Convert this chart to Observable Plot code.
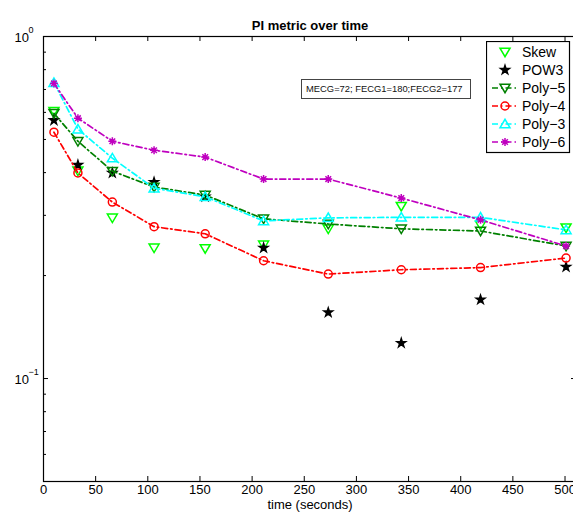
<!DOCTYPE html>
<html><head><meta charset="utf-8">
<script src="https://cdn.jsdelivr.net/npm/d3@7"></script>
<script src="https://cdn.jsdelivr.net/npm/@observablehq/plot@0.6"></script>
<style>
html,body{margin:0;padding:0;overflow:hidden;background:#fff;}
#wrap{position:relative;width:573px;height:516px;overflow:hidden;font-family:"Liberation Sans",Arial,sans-serif;}
#wrap > svg.chart{position:absolute;left:0;top:0;max-width:none !important;width:580px !important;height:516px !important;}
#note{position:absolute;left:301px;top:79px;width:170px;height:20px;box-sizing:border-box;border:1.5px solid #444;font-size:9.4px;line-height:17px;padding-left:4px;background:#fff;color:#111;white-space:nowrap;}
#wrap > svg#legend{position:absolute;left:486px;top:41px;max-width:none !important;}
</style></head><body><div id="wrap"></div>
<script>
// ---- data ----
const times = [10, 33, 66, 106, 155, 211, 273, 343, 419, 501];
const skew  = [0.605, 0.405, 0.295, 0.241, 0.240, 0.246, 0.274, 0.319, 0.281, 0.276];
const pow3  = [0.569, 0.421, 0.399, 0.375, 0.340, 0.241, 0.156, 0.127, 0.170, 0.212];
const poly5 = [0.596, 0.494, 0.404, 0.363, 0.344, 0.293, 0.283, 0.274, 0.270, 0.244];
const poly4 = [0.525, 0.399, 0.328, 0.278, 0.265, 0.221, 0.202, 0.208, 0.211, 0.225];
const poly3 = [0.733, 0.536, 0.441, 0.360, 0.340, 0.289, 0.295, 0.296, 0.296, 0.272];
const poly6 = [0.729, 0.577, 0.494, 0.465, 0.444, 0.383, 0.383, 0.337, 0.291, 0.244];
const seriesNames = ["Skew", "POW3", "Poly\u22125", "Poly\u22124", "Poly\u22123", "Poly\u22126"];
const xTicks = [0, 50, 100, 150, 200, 250, 300, 350, 400, 450, 500];
const yMajor = [1, 0.1];
const yMajorExp = ["0", "\u22121"];
const yMinor = [0.06, 0.07, 0.08, 0.09, 0.2, 0.3, 0.4, 0.5, 0.6, 0.7, 0.8, 0.9];
const titleText = "PI metric over time";
const xLabelText = "time (seconds)";
const noteText = "MECG=72; FECG1=180;FECG2=177";

// ---- symbols ----
const downTri = {draw(c, size){ const r = Math.sqrt(size/Math.PI); c.moveTo(-r, -r*0.75); c.lineTo(r, -r*0.75); c.lineTo(0, r*0.95); c.closePath(); }};
const upTri = {draw(c, size){ const r = Math.sqrt(size/Math.PI); c.moveTo(-r, r*0.75); c.lineTo(r, r*0.75); c.lineTo(0, -r*0.95); c.closePath(); }};
const aster = {draw(c, size){ const r = Math.sqrt(size/Math.PI); for (let k=0;k<4;k++){ const a = k*Math.PI/4; c.moveTo(r*Math.cos(a), r*Math.sin(a)); c.lineTo(-r*Math.cos(a), -r*Math.sin(a)); } }};

const series = [
  {name: seriesNames[0], vals: skew,  color: "#00ff00", symbol: downTri, r: 5, fill: "none", line: false},
  {name: seriesNames[1], vals: pow3,  color: "#000000", symbol: d3.symbolStar, r: 2.7, fill: "#000000", line: false},
  {name: seriesNames[2], vals: poly5, color: "#008000", symbol: downTri, r: 5, fill: "none", line: true},
  {name: seriesNames[3], vals: poly4, color: "#ff0000", symbol: "circle", r: 4, fill: "none", line: true},
  {name: seriesNames[4], vals: poly3, color: "#00ffff", symbol: upTri, r: 5, fill: "none", line: true},
  {name: seriesNames[5], vals: poly6, color: "#bf00bf", symbol: aster, r: 4, fill: "none", line: true}
];
const dash = "6,3,1.5,3";

const W = 580, H = 516, mT = 36, mL = 43, mR = 4, mB = 35;
const iW = W - mL - mR, iH = H - mT - mB;

const marks = [];
for (const s of series) {
  const rows = times.map((t, i) => ({t, v: s.vals[i]}));
  if (s.line) marks.push(Plot.line(rows, {x: "t", y: "v", stroke: s.color, strokeWidth: 1.7, strokeDasharray: dash}));
  marks.push(Plot.dot(rows, {x: "t", y: "v", symbol: s.symbol, r: s.r, stroke: s.color, fill: s.fill, strokeWidth: 1.5}));
}

const chart = Plot.plot({
  width: W, height: H, marginTop: mT, marginLeft: mL, marginRight: mR, marginBottom: mB,
  style: {fontFamily: "'Liberation Sans', Arial, sans-serif", background: "transparent", color: "#000"},
  x: {domain: [0, 511], axis: null},
  y: {type: "log", domain: [0.05, 1], axis: null},
  marks: [
    ...marks,
    Plot.frame({stroke: "#000", strokeWidth: 1.2}),
    Plot.tickX(xTicks, {x: d => d, insetTop: iH - 5, stroke: "#000"}),
    Plot.tickX(xTicks, {x: d => d, insetBottom: iH - 5, stroke: "#000"}),
    Plot.tickY(yMajor, {y: d => d, insetRight: iW - 5, stroke: "#000"}),
    Plot.tickY(yMajor, {y: d => d, insetLeft: iW - 5, stroke: "#000"}),
    Plot.tickY(yMinor, {y: d => d, insetRight: iW - 3, stroke: "#000"}),
    Plot.tickY(yMinor, {y: d => d, insetLeft: iW - 3, stroke: "#000"}),
    Plot.text(xTicks, {x: d => d, frameAnchor: "bottom", dy: 12, text: d => String(d), fontSize: 13, fill: "#000"}),
    Plot.text(yMajor, {y: d => d, frameAnchor: "left", dx: -29, dy: 1, textAnchor: "start", text: () => "10", fontSize: 13, fill: "#000"}),
    Plot.text(yMajor, {y: d => d, frameAnchor: "left", dx: -15, dy: -6, textAnchor: "start", text: (d, i) => yMajorExp[i], fontSize: 9, fill: "#000"}),
    Plot.text([titleText], {frameAnchor: "top", dy: -16, text: d => d, fontSize: 13, fontWeight: "bold", fill: "#000"}),
    Plot.text([xLabelText], {frameAnchor: "bottom", dy: 27, text: d => d, fontSize: 13, fill: "#000"})
  ]
});
chart.classList.add("chart");
const wrap = document.getElementById("wrap");
wrap.appendChild(chart);

// annotation box
const note = document.createElement("div");
note.id = "note"; note.textContent = noteText;
wrap.appendChild(note);

// legend
const lg = d3.select(wrap).append("svg").attr("id", "legend").attr("width", 85).attr("height", 113);
lg.append("rect").attr("x", 0.5).attr("y", 0.5).attr("width", 83).attr("height", 111).attr("fill", "#fff").attr("stroke", "#000").attr("stroke-width", 1.2);
series.forEach((s, i) => {
  const y = 11 + i * 18;
  const g = lg.append("g");
  if (s.line) g.append("line").attr("x1", 6).attr("x2", 32).attr("y1", y).attr("y2", y).attr("stroke", s.color).attr("stroke-width", 1.7).attr("stroke-dasharray", dash);
  const type = s.symbol === "circle" ? d3.symbolCircle : s.symbol;
  g.append("path").attr("d", d3.symbol().type(type).size(Math.PI * s.r * s.r)()).attr("transform", `translate(19,${y})`)
    .attr("fill", s.fill).attr("stroke", s.color).attr("stroke-width", 1.5);
  g.append("text").attr("x", 36).attr("y", y).attr("dy", "0.35em").attr("font-size", 14)
    .attr("font-family", "'Liberation Sans', Arial, sans-serif").attr("fill", "#000").text(s.name);
});
</script></body></html>
